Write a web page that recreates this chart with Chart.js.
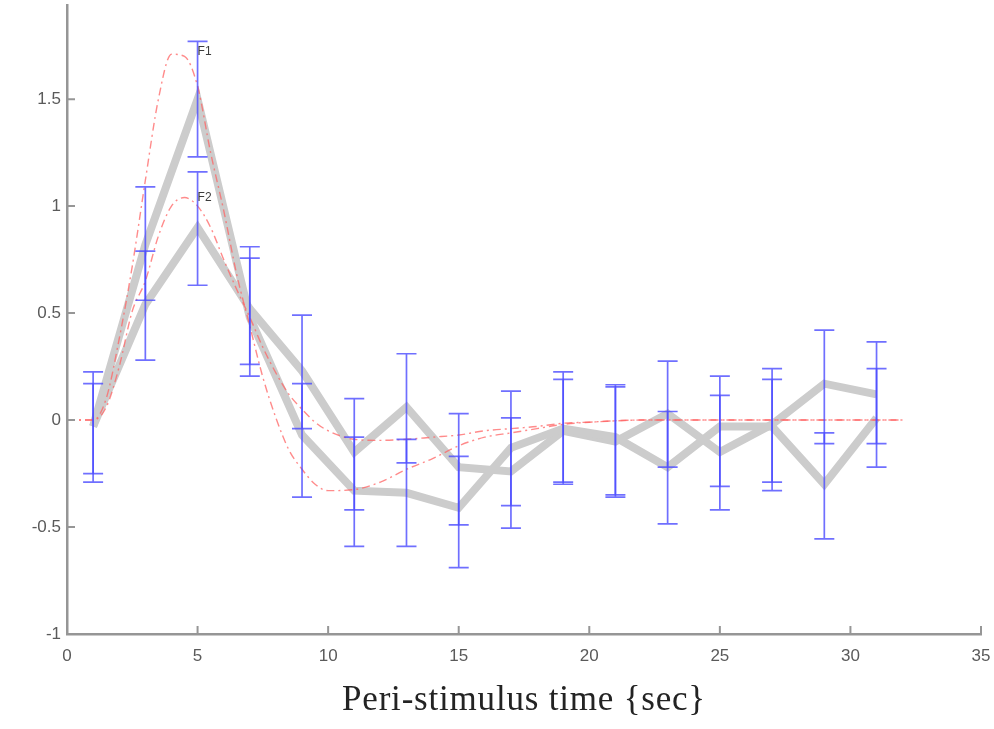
<html>
<head>
<script src="https://cdn.jsdelivr.net/npm/chart.js@4.4.0/dist/chart.umd.min.js"></script>
<style>
  body { margin: 0; background: #fff; }
</style>
</head>
<body>
<canvas id="myChart" width="994" height="729"></canvas>
<script>
// peri-stimulus time bins (sec)
const timeBins = [1, 3, 5, 7, 9, 11, 13, 15, 17, 19, 21, 23, 25, 27, 29, 31];

// F1 response + error bars
const f1Mean = [-0.03, 0.82, 1.50, 0.48, -0.07, -0.33, -0.34, -0.41, -0.13, -0.04, -0.08, -0.22, -0.03, -0.03, -0.30, 0.01];
const f1Low  = [-0.29, 0.56, 1.23, 0.205, -0.36, -0.59, -0.59, -0.69, -0.40, -0.29, -0.35, -0.485, -0.31, -0.29, -0.555, -0.22];
const f1High = [0.225, 1.09, 1.77, 0.757, 0.17, -0.08, -0.09, -0.17, 0.135, 0.225, 0.165, 0.04, 0.205, 0.24, -0.06, 0.24];

// F2 response + error bars
const f2Mean = [-0.03, 0.54, 0.90, 0.52, 0.23, -0.15, 0.06, -0.22, -0.24, -0.05, -0.10, 0.03, -0.15, -0.02, 0.17, 0.12];
const f2Low  = [-0.25, 0.28, 0.63, 0.26, -0.04, -0.42, -0.20, -0.49, -0.505, -0.30, -0.36, -0.22, -0.42, -0.33, -0.11, -0.11];
const f2High = [0.17, 0.79, 1.16, 0.81, 0.49, 0.10, 0.31, 0.03, 0.01, 0.19, 0.155, 0.275, 0.115, 0.19, 0.42, 0.365];

// fitted responses (red dash-dot)
const fitTime = [0, 1, 1.5, 2, 2.5, 3, 3.5, 4, 4.5, 5, 5.5, 6, 6.5, 7, 7.5, 8, 8.5, 9, 9.5, 10, 11, 12, 13, 14, 15, 16, 17, 18, 19, 20, 22, 24, 26, 28, 30, 32];
const fit1 = [0, 0.0, 0.1, 0.38, 0.72, 1.12, 1.5, 1.71, 1.70, 1.56, 1.25, 0.98, 0.68, 0.44, 0.2, 0.01, -0.14, -0.23, -0.30, -0.33, -0.325, -0.29, -0.23, -0.18, -0.12, -0.08, -0.06, -0.04, -0.02, -0.01, 0, 0, 0, 0, 0, 0];
const fit2 = [0, 0.0, 0.06, 0.25, 0.51, 0.65, 0.86, 1.0, 1.04, 1.0, 0.9, 0.75, 0.61, 0.48, 0.34, 0.22, 0.12, 0.05, -0.01, -0.05, -0.09, -0.095, -0.09, -0.08, -0.07, -0.05, -0.04, -0.03, -0.015, -0.01, 0, 0, 0, 0, 0, 0];

// axis ticks
const xTickValues = [0, 5, 10, 15, 20, 25, 30, 35];
const yTickValues = [-1, -0.5, 0, 0.5, 1, 1.5];
const xTitle = 'Peri-stimulus time {sec}';

// curve labels
const labelText = ['F1', 'F2'];
const labelX = [5.0, 5.0];
const labelY = [1.72, 1.04];

const axisGrey = 'rgb(150,150,150)';

function pts(xs, ys) {
    return xs.map((v, i) => ({x: v, y: ys[i]}));
}

const errorBars = {
    id: 'errorBars',
    afterDatasetsDraw(chart) {
        const ctx = chart.ctx;
        const x = chart.scales.x, y = chart.scales.y;
        const area = chart.chartArea;
        ctx.save();
        // error bars
        ctx.strokeStyle = 'rgba(75,75,255,0.8)';
        ctx.lineWidth = 1.7;
        [[f1Low, f1High], [f2Low, f2High]].forEach(function (pair) {
            timeBins.forEach(function (t, i) {
                const px = x.getPixelForValue(t);
                const y0 = y.getPixelForValue(pair[0][i]);
                const y1 = y.getPixelForValue(pair[1][i]);
                ctx.beginPath();
                ctx.moveTo(px, y0); ctx.lineTo(px, y1);
                ctx.moveTo(px - 10, y0); ctx.lineTo(px + 10, y0);
                ctx.moveTo(px - 10, y1); ctx.lineTo(px + 10, y1);
                ctx.stroke();
            });
        });
        // inward tick marks
        ctx.strokeStyle = axisGrey;
        ctx.lineWidth = 2;
        ctx.beginPath();
        yTickValues.forEach(function (v) {
            const py = y.getPixelForValue(v);
            ctx.moveTo(area.left, py); ctx.lineTo(area.left + 8, py);
        });
        xTickValues.forEach(function (v) {
            const px = x.getPixelForValue(v);
            ctx.moveTo(px, area.bottom); ctx.lineTo(px, area.bottom - 8);
        });
        ctx.stroke();
        // labels
        ctx.fillStyle = 'rgb(60,60,60)';
        ctx.font = '12px "Liberation Sans"';
        ctx.textBaseline = 'middle';
        ctx.textAlign = 'left';
        labelText.forEach(function (s, i) {
            ctx.fillText(s, x.getPixelForValue(labelX[i]), y.getPixelForValue(labelY[i]));
        });
        ctx.restore();
    },
    afterDraw(chart) {
        // axis title, slightly letter-spaced like the original
        const ctx = chart.ctx;
        const area = chart.chartArea;
        ctx.save();
        ctx.fillStyle = 'rgb(35,35,35)';
        ctx.font = '35px "Liberation Serif"';
        ctx.letterSpacing = '0.8px';
        ctx.textAlign = 'center';
        ctx.textBaseline = 'alphabetic';
        ctx.fillText(xTitle, (area.left + area.right) / 2, chart.height - 19);
        ctx.restore();
    }
};

const fitStyle = {
    borderColor: 'rgba(255,100,100,0.75)',
    borderWidth: 1.4,
    borderDash: [8, 4, 2, 4],
    pointRadius: 0,
    fill: false,
    cubicInterpolationMode: 'monotone'
};
const meanStyle = {
    borderColor: 'rgb(204,204,204)',
    borderWidth: 8,
    pointRadius: 0,
    fill: false,
    tension: 0
};

const ctx = document.getElementById('myChart').getContext('2d');
const chart = new Chart(ctx, {
    type: 'line',
    data: {
        datasets: [
            Object.assign({label: 'fit F1', data: pts(fitTime, fit1), order: 1}, fitStyle),
            Object.assign({label: 'fit F2', data: pts(fitTime, fit2), order: 1}, fitStyle),
            Object.assign({label: 'F1', data: pts(timeBins, f1Mean), order: 2}, meanStyle),
            Object.assign({label: 'F2', data: pts(timeBins, f2Mean), order: 2}, meanStyle)
        ]
    },
    options: {
        responsive: false,
        animation: false,
        layout: {padding: {top: 5, right: 13, bottom: 0, left: 0}},
        plugins: {legend: {display: false}, tooltip: {enabled: false}},
        scales: {
            x: {
                type: 'linear',
                min: 0,
                max: 35,
                afterBuildTicks: function (s) { s.ticks = xTickValues.map(v => ({value: v})); },
                afterFit: function (s) { s.height = 95; s.paddingLeft = 0; s.paddingRight = 0; },
                grid: {display: false, drawTicks: false},
                border: {display: true, color: axisGrey, width: 2.5},
                ticks: {
                    color: 'rgb(90,90,90)',
                    font: {family: '"Liberation Sans"', size: 17},
                    padding: 12,
                    maxRotation: 0,
                    callback: v => String(v)
                }
            },
            y: {
                type: 'linear',
                min: -1,
                max: 1.94,
                afterBuildTicks: function (s) { s.ticks = yTickValues.map(v => ({value: v})); },
                afterFit: function (s) { s.width = 67; s.paddingTop = 0; s.paddingBottom = 0; },
                grid: {display: false, drawTicks: false},
                border: {display: true, color: axisGrey, width: 2.5},
                ticks: {
                    color: 'rgb(90,90,90)',
                    font: {family: '"Liberation Sans"', size: 17},
                    padding: 6,
                    callback: v => String(v)
                }
            }
        }
    },
    plugins: [errorBars]
});
</script>
</body>
</html>
